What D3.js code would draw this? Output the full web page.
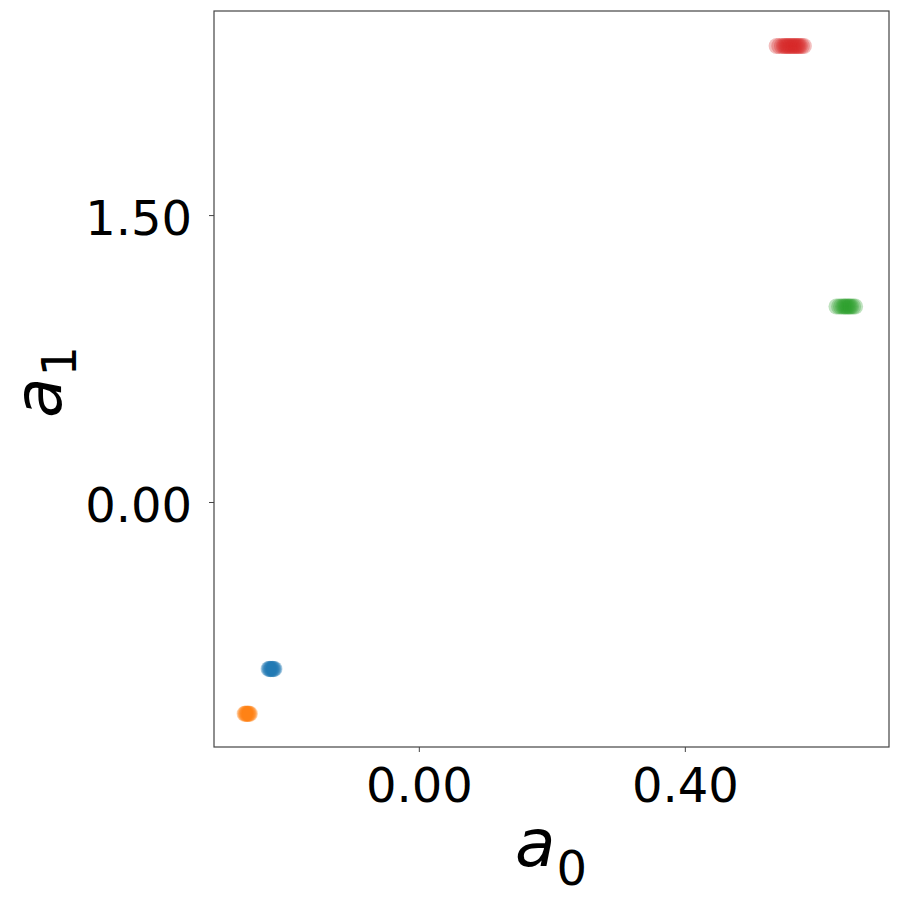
<!DOCTYPE html>
<html>
<head>
<meta charset="utf-8">
<script src="https://cdn.jsdelivr.net/npm/d3@7"></script>
<style>
  body { margin: 0; background: #fff; }
  svg { font-family: "DejaVu Sans", sans-serif; }
</style>
</head>
<body>
<div id="graph"></div>
<script>
// a0 / a1 samples per cluster
var blue_a0 = [-0.226, -0.225, -0.224, -0.223, -0.222, -0.221, -0.220, -0.219, -0.218, -0.217];
var blue_a1 = [-0.873, -0.873, -0.872, -0.874, -0.873, -0.873, -0.872, -0.874, -0.873, -0.873];
var orange_a0 = [-0.262, -0.261, -0.260, -0.259, -0.258, -0.257, -0.256, -0.255, -0.254];
var orange_a1 = [-1.107, -1.107, -1.106, -1.108, -1.107, -1.107, -1.106, -1.108, -1.107];
var red_a0 = [0.538, 0.542, 0.546, 0.549, 0.551, 0.553, 0.555, 0.557, 0.559, 0.561, 0.563, 0.565, 0.567, 0.569, 0.571, 0.573, 0.576, 0.579];
var red_a1 = [2.384, 2.384, 2.384, 2.384, 2.384, 2.384, 2.384, 2.384, 2.384, 2.384, 2.384, 2.384, 2.384, 2.384, 2.384, 2.384, 2.384, 2.384];
var green_a0 = [0.628, 0.632, 0.635, 0.638, 0.640, 0.642, 0.644, 0.646, 0.648, 0.650, 0.653, 0.656];
var green_a1 = [1.022, 1.022, 1.022, 1.022, 1.022, 1.022, 1.022, 1.022, 1.022, 1.022, 1.022, 1.022];

var x_ticks = [0.0, 0.4];
var y_ticks = [0.0, 1.5];

var series = [
  {name: "blue", color: "#1f77b4", a0: blue_a0, a1: blue_a1},
  {name: "orange", color: "#ff7f0e", a0: orange_a0, a1: orange_a1},
  {name: "green", color: "#2ca02c", a0: green_a0, a1: green_a1},
  {name: "red", color: "#d62728", a0: red_a0, a1: red_a1}
];

var margin = {top: 11, right: 11, bottom: 153, left: 214};
var width = 900 - margin.left - margin.right,
    height = 900 - margin.top - margin.bottom;

var x = d3.scaleLinear().domain([-0.308, 0.707]).range([0, width]),
    y = d3.scaleLinear().domain([-1.281, 2.567]).range([height, 0]);

var svg = d3.select("#graph").append("svg")
    .attr("width", 900)
    .attr("height", 900);

var g = svg.append("g")
    .attr("transform", "translate(" + margin.left + "," + margin.top + ")");

// points
series.forEach(function(s) {
  var pts = s.a0.map(function(v, i) { return {a0: v, a1: s.a1[i]}; });
  g.append("g")
    .attr("class", "cluster " + s.name)
    .selectAll("circle")
    .data(pts)
    .enter().append("circle")
      .attr("cx", function(d) { return x(d.a0); })
      .attr("cy", function(d) { return y(d.a1); })
      .attr("r", 8)
      .style("fill", s.color)
      .style("opacity", 0.3);
});

// axes
var xAxis = g.append("g")
    .attr("class", "axis axis--x")
    .attr("transform", "translate(0," + height + ")")
    .call(d3.axisBottom(x).tickValues(x_ticks).tickFormat(d3.format(".2f"))
      .tickSize(5).tickSizeOuter(0).tickPadding(16));

var yAxis = g.append("g")
    .attr("class", "axis axis--y")
    .call(d3.axisLeft(y).tickValues(y_ticks).tickFormat(d3.format(".2f"))
      .tickSize(5).tickSizeOuter(0).tickPadding(17));

g.selectAll(".axis .domain").remove();
g.selectAll(".axis line").attr("stroke", "#444").attr("stroke-width", 1);
g.selectAll(".axis text")
  .style("font-family", "DejaVu Sans")
  .style("font-size", "48px")
  .attr("fill", "#000");
yAxis.selectAll("text").attr("dy", "0.4em");

// frame
g.append("rect")
  .attr("x", 0)
  .attr("y", 0)
  .attr("width", width)
  .attr("height", height)
  .attr("fill", "none")
  .attr("stroke", "#444")
  .attr("stroke-width", 1.2);

// axis labels
var xl = svg.append("text")
  .attr("x", 515)
  .attr("y", 866)
  .style("font-size", "66px");
xl.append("tspan").style("font-style", "italic").text("a");
xl.append("tspan").attr("dy", 19).attr("dx", 1).style("font-size", "48px").text("0");

var yl = svg.append("text")
  .attr("transform", "translate(61,418) rotate(-90)")
  .style("font-size", "66px");
yl.append("tspan").style("font-style", "italic").text("a");
yl.append("tspan").attr("dy", 15).attr("dx", 1).style("font-size", "48px").text("1");
</script>
</body>
</html>
